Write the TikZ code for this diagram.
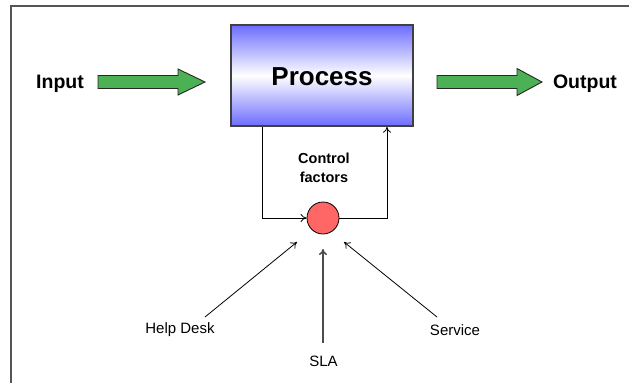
\documentclass[tikz,border=0pt]{standalone}
\usepackage{fontspec}
\setmainfont{Liberation Sans}
\usetikzlibrary{arrows.meta}
\definecolor{boxblue}{RGB}{108,108,255}
\definecolor{arrowgreen}{RGB}{76,176,84}
\definecolor{circred}{RGB}{255,102,102}
\definecolor{framegray}{RGB}{85,85,85}
\begin{document}
\begin{tikzpicture}[x=1pt,y=-1pt,
  blockarrow/.style={fill=arrowgreen,draw=black!85,line width=0.9pt,line join=miter},
  conn/.style={draw=black,line width=0.8pt,-{To[length=6pt,width=8pt]}},
  big/.style={font=\bfseries\fontsize{19.5}{22}\selectfont},
  lbl/.style={font=\fontsize{15}{18}\selectfont}]
\useasboundingbox (0,0) rectangle (629,383);
\draw[framegray,line width=2pt] (10.5,383) -- (10.5,5.5) -- (629,5.5);
% process box
\node[draw=black!75, line width=1.5pt, minimum width=182pt, minimum height=101pt,
      top color=boxblue, bottom color=boxblue, middle color=white, inner sep=0] (proc) at (322,75.5) {};
\node[anchor=base, font=\bfseries\fontsize{26}{30}\selectfont] (ptext) at (322,85) {Process};
% input / output
\node[anchor=base, big] (in) at (60,88) {Input};
\node[anchor=base, big] (out) at (585,88) {Output};
\draw[blockarrow] (98,75.5) -- (178,75.5) -- (178,69) -- (205,82) -- (178,95) -- (178,88.5) -- (98,88.5) -- cycle;
\draw[blockarrow] (437,75.5) -- (517,75.5) -- (517,68.5) -- (542,82) -- (517,95.5) -- (517,88.5) -- (437,88.5) -- cycle;
% control
\node[anchor=base, font=\bfseries\fontsize{14.5}{18}\selectfont] (cf1) at (324,163) {Control};
\node[anchor=base, font=\bfseries\fontsize{14.5}{18}\selectfont] (cf2) at (324,182) {factors};
\node[circle, draw=black, fill=circred, minimum size=32pt, inner sep=0, line width=0.8pt] (c) at (323,218) {};
\coordinate (fl) at (262,218);
\coordinate (fr) at (387,218);
\draw[conn] (fl |- proc.south) -- (fl) -- (c.west);
\draw[conn] (c.east) -- (fr) -- (fr |- proc.south);
% inputs to control
\node[anchor=base, lbl] (hd) at (180,333) {Help Desk};
\node[anchor=base, lbl] (sla) at (323.5,366) {SLA};
\node[anchor=base, lbl] (svc) at (455,335) {Service};
\coordinate (hds) at (205,317);
\coordinate (hde) at (297,242);
\coordinate (slas) at (323,343);
\coordinate (slae) at (323,249);
\coordinate (svs) at (437,317);
\coordinate (sve) at (344,242);
\draw[conn] (hds) -- (hde);
\draw[conn, draw=black!70, line width=1.5pt] (slas) -- (slae);
\draw[conn] (svs) -- (sve);
\end{tikzpicture}
\end{document}
